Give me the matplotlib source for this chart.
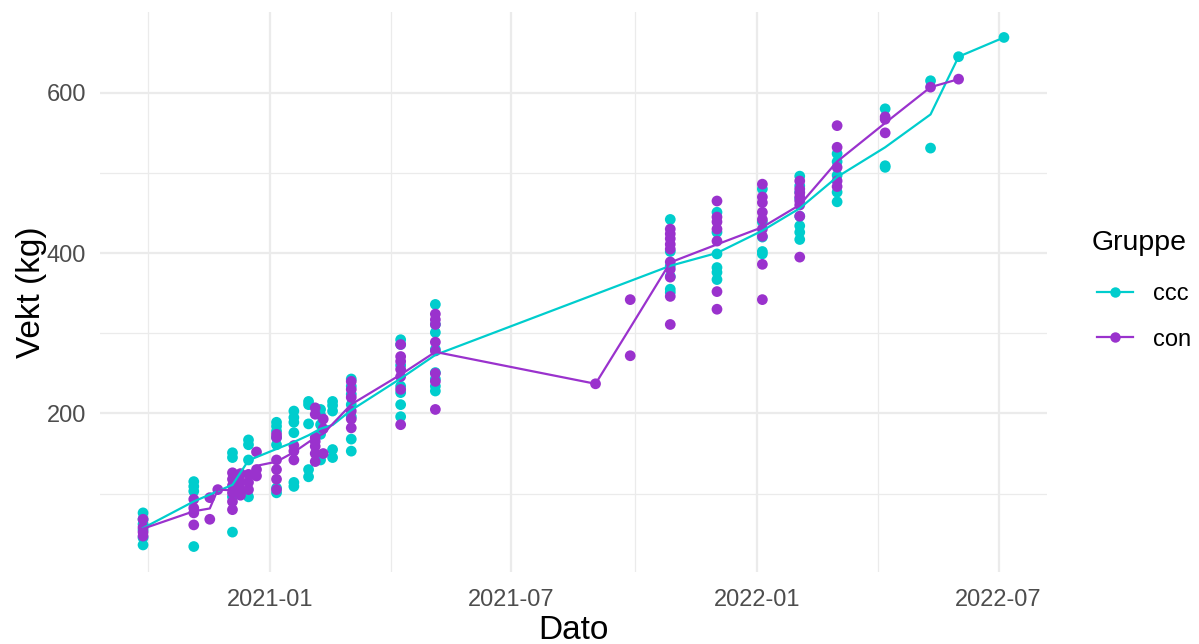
import matplotlib
matplotlib.use("Agg")
import matplotlib.pyplot as plt
import matplotlib.dates as mdates
from matplotlib.lines import Line2D
import numpy as np
import pandas as pd

plt.rcParams['font.family'] = ['Liberation Sans', 'DejaVu Sans']

# ---------------- data ----------------
ccc_dates = ["2020-09-28", "2020-11-05", "2020-12-04", "2020-12-16", "2021-01-06",
             "2021-01-19", "2021-01-30", "2021-02-08", "2021-02-17",
             "2021-03-03", "2021-04-09", "2021-05-05", "2021-10-28", "2021-12-02",
             "2022-01-05", "2022-02-02", "2022-03-02", "2022-04-07", "2022-05-11",
             "2022-06-01", "2022-07-05"]
ccc_values = [
    [76, 68, 62, 55, 45, 36],
    [115, 109, 103, 34],
    [151, 145, 96, 52],
    [167, 161, 142, 96],
    [189, 184, 178, 170, 161, 107, 101],
    [203, 195, 189, 176, 114, 109],
    [215, 211, 187, 130, 121],
    [205, 198, 186, 174, 142],
    [215, 210, 203, 155, 145],
    [243, 234, 224, 211, 196, 168, 153],
    [292, 286, 260, 234, 226, 211, 196],
    [336, 311, 301, 280, 251, 243, 234, 228],
    [442, 402, 384, 371, 355, 351],
    [451, 426, 399, 382, 376, 367],
    [480, 439, 420, 402, 399],
    [496, 484, 476, 468, 446, 434, 426, 417],
    [524, 514, 497, 476, 464],
    [580, 509, 507],
    [615, 531],
    [645],
    [669],
]

con_dates = ["2020-09-28", "2020-11-05", "2020-11-17", "2020-11-23", "2020-12-04",
             "2020-12-10", "2020-12-16", "2020-12-22", "2021-01-06", "2021-01-19",
             "2021-02-04", "2021-02-10", "2021-03-03", "2021-04-09", "2021-05-05",
             "2021-09-02", "2021-09-28", "2021-10-28", "2021-12-02", "2022-01-05",
             "2022-02-02", "2022-03-02", "2022-04-07", "2022-05-11", "2022-06-01"]
con_values = [
    [68, 58, 52, 47],
    [93, 82, 76, 61],
    [95, 68],
    [105],
    [126, 118, 110, 101, 90, 80],
    [125, 115, 105, 98],
    [124, 114, 105],
    [152, 130, 122],
    [174, 170, 142, 130, 118, 105],
    [160, 153, 142],
    [207, 199, 170, 165, 159, 150, 140],
    [193, 181, 150],
    [240, 230, 220, 203, 193, 182],
    [286, 271, 265, 255, 246, 230, 186],
    [324, 317, 311, 289, 278, 250, 240, 205],
    [237],
    [342, 272],
    [430, 424, 418, 411, 405, 389, 380, 370, 346, 311],
    [465, 445, 439, 430, 415, 352, 330],
    [486, 470, 463, 451, 442, 430, 421, 386, 342],
    [490, 480, 475, 470, 465, 460, 446, 395],
    [559, 532, 507, 490, 483],
    [570, 567, 550],
    [607],
    [617],
]

groups = ["ccc", "con"]
colors = {"ccc": "#00CDCD", "con": "#9A32CD"}
series = {"ccc": (ccc_dates, ccc_values), "con": (con_dates, con_values)}

# ---------------- figure ----------------
W, H = 1199, 644
fig = plt.figure(figsize=(W / 100, H / 100), dpi=100)
ax = fig.add_axes([100 / W, 1 - 572 / H, (1047 - 100) / W, (572 - 12) / H])

for g in groups:
    dates, vals = series[g]
    d = pd.to_datetime(dates)
    xs, ys = [], []
    for di, v in zip(d, vals):
        xs += [di] * len(v)
        ys += v
    ax.scatter(xs, ys, s=60, color=colors[g], edgecolors='none', zorder=3)

for g in groups:
    dates, vals = series[g]
    d = pd.to_datetime(dates)
    means = [np.mean(v) for v in vals]
    ax.plot(d, means, color=colors[g], lw=1.6, zorder=4)

# limits with ggplot-like 5% expansion
all_d = pd.to_datetime(ccc_dates + con_dates)
dmin, dmax = mdates.date2num(all_d.min()), mdates.date2num(all_d.max())
span = dmax - dmin
ax.set_xlim(dmin - 0.05 * span, dmax + 0.05 * span)
all_v = [x for v in ccc_values + con_values for x in v]
vmin, vmax = min(all_v), max(all_v)
vs = vmax - vmin
ax.set_ylim(vmin - 0.05 * vs, vmax + 0.05 * vs)

major_x = pd.to_datetime(["2021-01-01", "2021-07-01", "2022-01-01", "2022-07-01"])
minor_x = pd.to_datetime(["2020-10-01 12:00", "2021-04-01 12:00", "2021-10-01 12:00", "2022-04-01 12:00"])
ax.set_xticks(mdates.date2num(major_x))
ax.set_xticklabels([t.strftime("%Y-%m") for t in major_x])
ax.set_xticks(mdates.date2num(minor_x), minor=True)
ax.set_yticks([200, 400, 600])
ax.set_yticks([100, 300, 500], minor=True)

ax.grid(which='major', color='#EBEBEB', lw=1.6, zorder=0)
ax.grid(which='minor', color='#EBEBEB', lw=0.9, zorder=0)
ax.set_axisbelow(True)
for s in ax.spines.values():
    s.set_visible(False)
ax.tick_params(which='both', length=0)
ax.tick_params(axis='both', labelsize=17, labelcolor='#4D4D4D')
ax.tick_params(axis='x', pad=12)
ax.tick_params(axis='y', pad=10)

ax.set_xlabel("Dato", fontsize=24, color='black', labelpad=3)
ax.set_ylabel("Vekt (kg)", fontsize=24, color='black', labelpad=0)

fig.text(1092 / W, 1 - 243 / H, "Gruppe", fontsize=20.5, color='black',
         ha='left', va='center')
handles = [Line2D([0], [0], color=colors[g], lw=1.6, marker='o', markersize=7.5,
                  markeredgewidth=0) for g in groups]
leg = fig.legend(handles, groups, loc='upper left',
                 bbox_to_anchor=(1097 / W, 1 - 283 / H), frameon=False,
                 borderpad=0, borderaxespad=0,
                 fontsize=17, handlelength=1.53, labelspacing=1.0,
                 handletextpad=0.85)

fig.savefig("out.png", dpi=100)
